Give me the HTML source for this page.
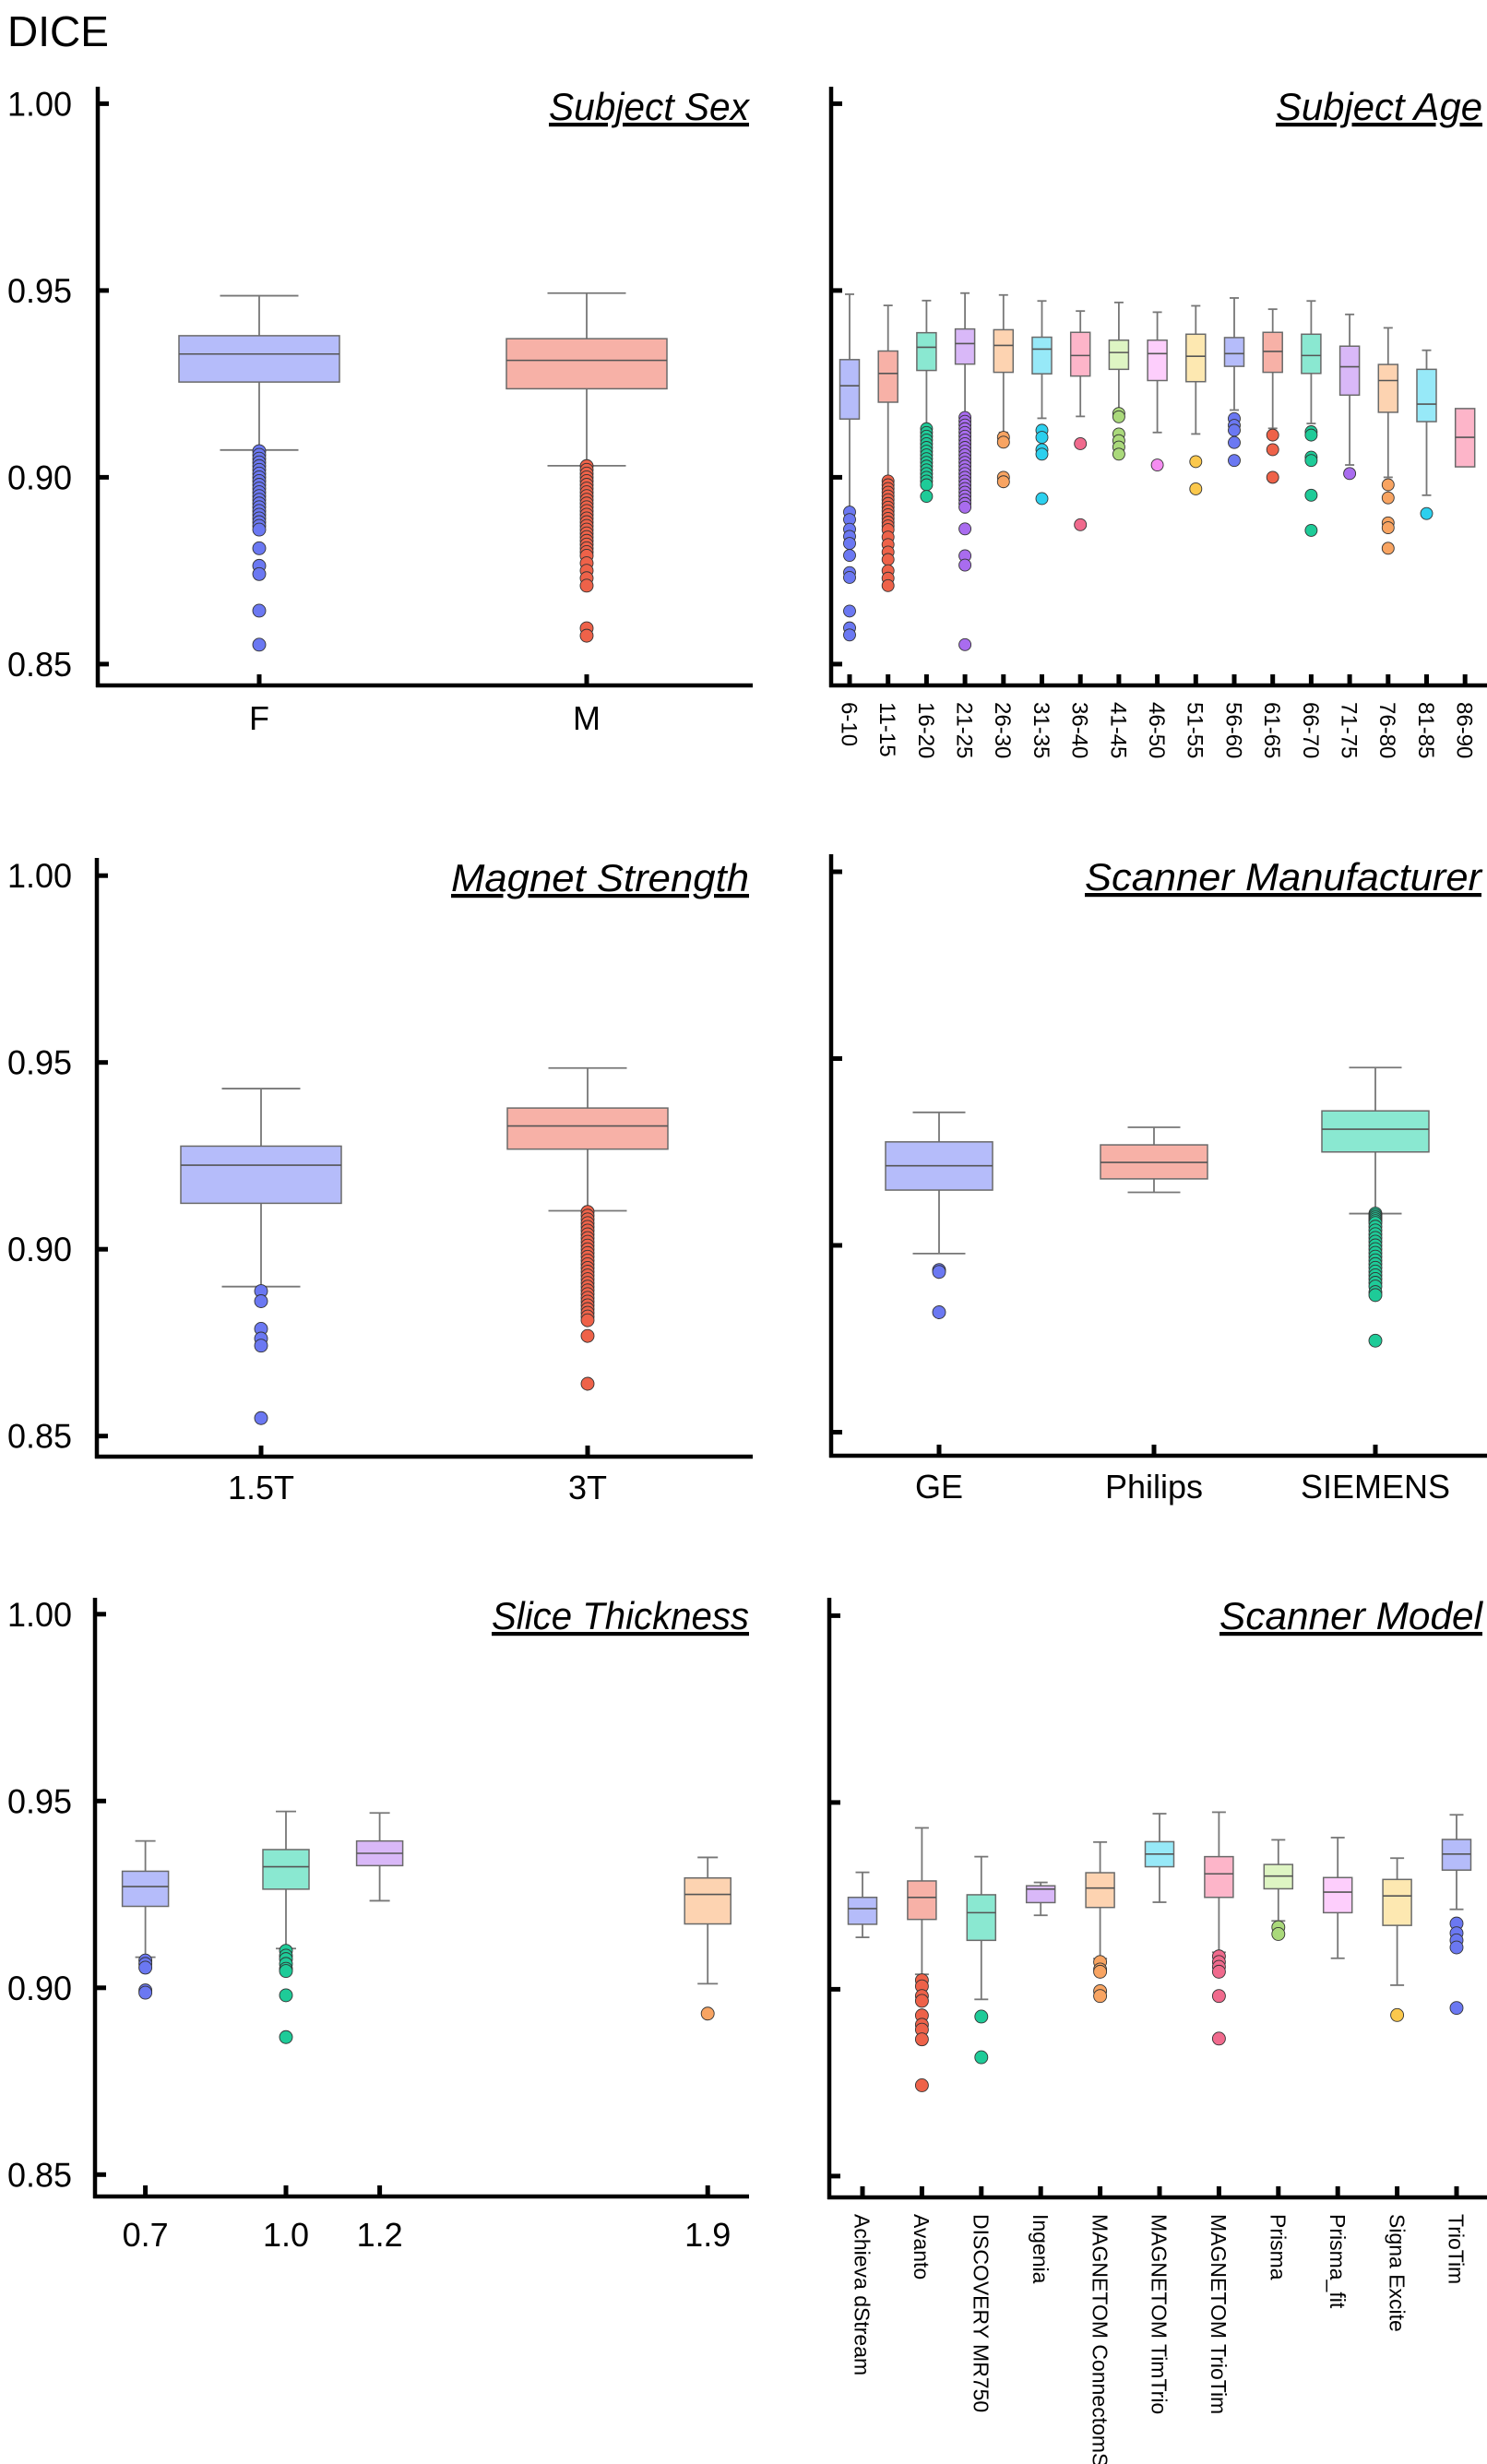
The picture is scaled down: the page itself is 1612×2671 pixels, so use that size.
<!DOCTYPE html>
<html><head><meta charset="utf-8"><style>
html,body{margin:0;padding:0;background:#fff}
svg{display:block}
text{font-family:"Liberation Sans",sans-serif;fill:#000}
</style></head><body>
<svg id="fig" width="1612" height="2671" viewBox="0 0 1612 2671" xmlns="http://www.w3.org/2000/svg">
<text x="8" y="50" font-size="46">DICE</text>
</svg>
<script>
// ---------- data ----------
const yTicks=[1.00,0.95,0.90,0.85];
const yTickLabels=['1.00','0.95','0.90','0.85'];

const sexCats=['F','M'];
const sexHi=[0.9486,0.9493];
const sexQ3=[0.9379,0.9371];
const sexMed=[0.933,0.9313];
const sexQ1=[0.9255,0.9237];
const sexLo=[0.9073,0.9031];
const sexOut=[
 [0.907,0.906,0.905,0.904,0.903,0.902,0.901,0.900,0.899,0.898,0.897,0.896,0.895,0.894,0.893,0.892,0.891,0.890,0.889,0.888,0.887,0.886,0.881,0.8763,0.8741,0.8643,0.8552],
 [0.903,0.902,0.901,0.900,0.899,0.898,0.897,0.896,0.895,0.894,0.893,0.892,0.891,0.890,0.889,0.888,0.887,0.886,0.885,0.884,0.883,0.882,0.881,0.880,0.879,0.877,0.875,0.873,0.871,0.8596,0.8576]];

const ageCats=['6-10','11-15','16-20','21-25','26-30','31-35','36-40','41-45','46-50','51-55','56-60','61-65','66-70','71-75','76-80','81-85','86-90'];
const ageHi=[0.949,0.946,0.9473,0.9493,0.9488,0.9472,0.9445,0.9468,0.9442,0.9459,0.948,0.945,0.9472,0.9436,0.940,0.934,null];
const ageQ3=[0.9315,0.9338,0.9387,0.9397,0.9395,0.9375,0.9388,0.9367,0.9367,0.9383,0.9374,0.9388,0.9383,0.9351,0.9302,0.9289,0.9184];
const ageMed=[0.9245,0.9278,0.9348,0.9358,0.9353,0.9343,0.9326,0.9334,0.9331,0.9324,0.9331,0.9337,0.9326,0.9296,0.9259,0.9196,0.9107];
const ageQ1=[0.9156,0.9201,0.9286,0.9303,0.9281,0.9277,0.9271,0.9289,0.9259,0.9256,0.9297,0.9281,0.9278,0.922,0.9174,0.9149,0.9028];
const ageLo=[0.891,0.8997,0.9139,0.9165,0.912,0.9158,0.9163,0.918,0.912,0.9116,0.918,0.9131,0.9144,0.9033,0.900,0.8952,null];
const ageOut=[
 [0.8907,0.8887,0.8861,0.8842,0.8823,0.8791,0.8745,0.8732,0.8642,0.8597,0.8578],
 [0.899,0.898,0.897,0.896,0.895,0.894,0.893,0.892,0.891,0.890,0.889,0.888,0.887,0.886,0.884,0.882,0.880,0.878,0.875,0.873,0.871],
 [0.913,0.912,0.911,0.910,0.909,0.908,0.907,0.906,0.905,0.904,0.903,0.902,0.901,0.900,0.899,0.898,0.8949],
 [0.916,0.915,0.914,0.913,0.912,0.911,0.910,0.909,0.908,0.907,0.906,0.905,0.904,0.903,0.902,0.901,0.900,0.899,0.898,0.897,0.896,0.895,0.894,0.893,0.892,0.8862,0.879,0.8765,0.8552],
 [0.9107,0.9094,0.900,0.8988],
 [0.9126,0.9107,0.9074,0.9062,0.8943],
 [0.909,0.8873],
 [0.9171,0.9162,0.9116,0.9098,0.9081,0.9062],
 [0.9033],
 [0.9042,0.8969],
 [0.9157,0.9139,0.9126,0.9093,0.9045],
 [0.9113,0.9074,0.900],
 [0.9122,0.9113,0.9054,0.9045,0.8952,0.8858],
 [0.901],
 [0.898,0.8945,0.8878,0.8865,0.881],
 [0.8903],
 []];

const magCats=['1.5T','3T'];
const magHi=[0.943,0.9485];
const magQ3=[0.9276,0.9378];
const magMed=[0.9225,0.933];
const magQ1=[0.9123,0.9268];
const magLo=[0.890,0.9103];
const magOut=[
 [0.8888,0.8861,0.8787,0.8761,0.8742,0.8548],
 [0.910,0.909,0.908,0.907,0.906,0.905,0.904,0.903,0.902,0.901,0.900,0.899,0.898,0.897,0.896,0.895,0.894,0.893,0.892,0.891,0.890,0.889,0.888,0.887,0.886,0.885,0.884,0.883,0.882,0.881,0.8768,0.864]];

const manCats=['GE','Philips','SIEMENS'];
const manHi=[0.9356,0.9316,0.9476];
const manQ3=[0.9277,0.9269,0.936];
const manMed=[0.9213,0.9222,0.9311];
const manQ1=[0.9148,0.9178,0.925];
const manLo=[0.8978,0.9142,0.9085];
const manOut=[
 [0.8934,0.8929,0.8821],
 [],
 [0.9085,0.908,0.9075,0.907,0.9065,0.906,0.905,0.904,0.903,0.902,0.901,0.900,0.899,0.898,0.897,0.896,0.895,0.894,0.893,0.892,0.891,0.890,0.889,0.8875,0.8867,0.8745]];

const sliceCats=[0.7,1.0,1.2,1.9];
const sliceLabels=['0.7','1.0','1.2','1.9'];
const sliceHi=[0.9393,0.9472,0.9468,0.9349];
const sliceQ3=[0.9312,0.937,0.9393,0.9294];
const sliceMed=[0.9271,0.9324,0.936,0.925];
const sliceQ1=[0.9218,0.9264,0.9327,0.9171];
const sliceLo=[0.9082,0.9105,0.9233,0.9011];
const sliceOut=[
 [0.9073,0.9064,0.9054,0.8993,0.8987],
 [0.9099,0.9086,0.9077,0.9064,0.9051,0.9045,0.898,0.8868],
 [],
 [0.8931]];

const modCats=['Achieva dStream','Avanto','DISCOVERY MR750','Ingenia','MAGNETOM ConnectomS','MAGNETOM TimTrio','MAGNETOM TrioTim','Prisma','Prisma_fit','Signa Excite','TrioTim'];
const modHi=[0.9313,0.9432,0.9355,0.9286,0.9394,0.947,0.9474,0.940,0.9406,0.9351,0.9467];
const modQ3=[0.9246,0.929,0.9253,0.9277,0.9312,0.9395,0.9355,0.9334,0.9299,0.9294,0.9401];
const modMed=[0.9216,0.9246,0.9205,0.9268,0.9271,0.9362,0.9309,0.9303,0.926,0.925,0.9362];
const modQ1=[0.9174,0.9187,0.9131,0.9232,0.9219,0.9328,0.9246,0.9269,0.9205,0.9171,0.9319];
const modLo=[0.9139,0.904,0.8973,0.9198,0.9082,0.9233,0.9099,0.9183,0.9083,0.9011,0.9214];
const modOut=[
 [],
 [0.9024,0.9008,0.8982,0.8969,0.893,0.8905,0.8892,0.8866,0.8743],
 [0.8927,0.8818],
 [],
 [0.9073,0.9053,0.9047,0.8995,0.8982],
 [],
 [0.9088,0.9073,0.906,0.9047,0.8982,0.8868],
 [0.9166,0.9148],
 [],
 [0.8931],
 [0.9176,0.915,0.9131,0.9112,0.895]];

// ---------- style ----------
const PAL={blue:['#b5bcfa','#6b78f2'],red:['#f7b1a7','#ee6249'],teal:['#8ae8d1','#1ecb98'],purple:['#d9b8f8','#a96cef'],peach:['#fdd3b1','#f8a462'],cyan:['#97e9f8','#2cd0ee'],pink:['#fdb5c9','#f06a8d'],green:['#def5c3','#aad97b'],magenta:['#fdcefc','#f58df1'],yellow:['#fde8b1','#fbc84c']};
const SEQ=['blue','red','teal','purple','peach','cyan','pink','green','magenta','yellow'];
const NS='http://www.w3.org/2000/svg';
const svg=document.getElementById('fig');
function mk(tag,attrs,parent){const e=document.createElementNS(NS,tag);for(const k in attrs)e.setAttribute(k,attrs[k]);(parent||svg).appendChild(e);return e;}

function panel(o){
  const g=mk('g',{});
  
  
  const ys=v=>o.y100+(1-v)*4050;
  const xs=o.xs;
  const t=mk('text',{x:o.titleRight,y:o.titleY,'font-size':42,'font-style':'italic','text-anchor':'end','text-decoration':'underline',textLength:o.titleW,lengthAdjust:'spacingAndGlyphs'},g);
  t.textContent=o.title;
  
  
  const ya=mk('line',{x1:o.ax,y1:o.axTop,x2:o.ax,y2:o.xaxY+2,stroke:'#000','stroke-width':4.5},g);
  
  
  const xa=mk('line',{x1:o.ax-2,y1:o.xaxY,x2:o.axRight,y2:o.xaxY,stroke:'#000','stroke-width':4.5},g);
  
  
  yTicks.forEach((v,i)=>{
    const tk=mk('line',{x1:o.ax,y1:ys(v),x2:o.ax+12,y2:ys(v),stroke:'#000','stroke-width':5},g);
    
    
    if(o.yLabels){
      const tl=mk('text',{x:78,y:ys(v)+13,'font-size':37,'text-anchor':'end',textLength:70,lengthAdjust:'spacingAndGlyphs'},g);
      tl.textContent=yTickLabels[i];
      
      
    }
  });
  o.cats.forEach((c,i)=>{
    const x=xs(i);
    const tk=mk('line',{x1:x,y1:o.xaxY-12,x2:x,y2:o.xaxY,stroke:'#000','stroke-width':5},g);
    
    
    let lab;
    if(o.rot){
      lab=mk('text',{x:0,y:0,'font-size':o.labFs,transform:`translate(${x-o.labFs*0.36},${o.xaxY+18}) rotate(90)`},g);
    }else{
      lab=mk('text',{x:x,y:o.labY,'font-size':36,'text-anchor':'middle'},g);
    }
    lab.textContent=o.labels?o.labels[i]:c;
    
    
    const seq=o.seq||SEQ;
    const col=PAL[seq[i%seq.length]];
    const bg=mk('g',{},g);
    
    
    const hw=o.bw/2, cw=o.cw/2;
    if(o.hi[i]!=null){
      mk('line',{x1:x,y1:ys(o.hi[i]),x2:x,y2:ys(o.q3[i]),stroke:'#777','stroke-width':1.8},bg);
      mk('line',{x1:x-cw,y1:ys(o.hi[i]),x2:x+cw,y2:ys(o.hi[i]),stroke:'#777','stroke-width':1.8},bg);
    }
    if(o.lo[i]!=null){
      mk('line',{x1:x,y1:ys(o.q1[i]),x2:x,y2:ys(o.lo[i]),stroke:'#777','stroke-width':1.8},bg);
      mk('line',{x1:x-cw,y1:ys(o.lo[i]),x2:x+cw,y2:ys(o.lo[i]),stroke:'#777','stroke-width':1.8},bg);
    }
    mk('rect',{x:x-hw,y:ys(o.q3[i]),width:o.bw,height:ys(o.q1[i])-ys(o.q3[i]),fill:col[0],stroke:'#6a6a6a','stroke-width':1.5},bg);
    mk('line',{x1:x-hw,y1:ys(o.med[i]),x2:x+hw,y2:ys(o.med[i]),stroke:'#555','stroke-width':1.6},bg);
    o.out[i].forEach(v=>{
      const p=mk('circle',{cx:x,cy:ys(v),r:o.r,fill:col[1],stroke:'#333','stroke-width':0.9},bg);
      
      
    });
  });
}

const catX=(x0,step)=>i=>x0+i*step;

panel({name:'subject-sex-panel',title:'Subject Sex',titleRight:812,titleY:130,titleW:217,y100:112.4,ax:106,axTop:94,xaxY:743,axRight:816,yLabels:true,
  cats:sexCats,xs:catX(281,355),hi:sexHi,q3:sexQ3,med:sexMed,q1:sexQ1,lo:sexLo,out:sexOut,bw:174,cw:85,r:7,labY:791});
panel({name:'subject-age-panel',title:'Subject Age',titleRight:1607,titleY:130,titleW:224,y100:112.4,ax:901,axTop:94,xaxY:743,axRight:1612,yLabels:false,
  cats:ageCats,xs:catX(921,41.7),hi:ageHi,q3:ageQ3,med:ageMed,q1:ageQ1,lo:ageLo,out:ageOut,bw:21,cw:10,r:6.5,rot:true,labFs:24});
panel({name:'magnet-strength-panel',title:'Magnet Strength',titleRight:812,titleY:966,titleW:323,y100:949.2,ax:105,axTop:930,xaxY:1579,axRight:816,yLabels:true,
  cats:magCats,xs:catX(283,354),hi:magHi,q3:magQ3,med:magMed,q1:magQ1,lo:magLo,out:magOut,bw:174,cw:85,r:7,labY:1625});
panel({name:'scanner-manufacturer-panel',title:'Scanner Manufacturer',titleRight:1606,titleY:965,titleW:430,y100:945,ax:901,axTop:926,xaxY:1578,axRight:1612,yLabels:false,
  cats:manCats,xs:i=>[1018,1251,1491][i],hi:manHi,q3:manQ3,med:manMed,q1:manQ1,lo:manLo,out:manOut,bw:116,cw:57,r:7,labY:1624});
const sliceScale=t=>310+(t-1.0)*508;
panel({name:'slice-thickness-panel',title:'Slice Thickness',titleRight:812,titleY:1766,titleW:279,y100:1749.8,ax:103,axTop:1732,xaxY:2381,axRight:812,yLabels:true,
  seq:['blue','teal','purple','peach'],
  cats:sliceCats,labels:sliceLabels,xs:i=>sliceScale(sliceCats[i]),hi:sliceHi,q3:sliceQ3,med:sliceMed,q1:sliceQ1,lo:sliceLo,out:sliceOut,bw:50,cw:22,r:7,labY:2435});
panel({name:'scanner-model-panel',title:'Scanner Model',titleRight:1607,titleY:1766,titleW:285,y100:1751.4,ax:899,axTop:1732,xaxY:2382,axRight:1612,yLabels:false,
  cats:modCats,xs:catX(935,64.4),hi:modHi,q3:modQ3,med:modMed,q1:modQ1,lo:modLo,out:modOut,bw:31,cw:15,r:7,rot:true,labFs:23});
</script>
</body></html>
